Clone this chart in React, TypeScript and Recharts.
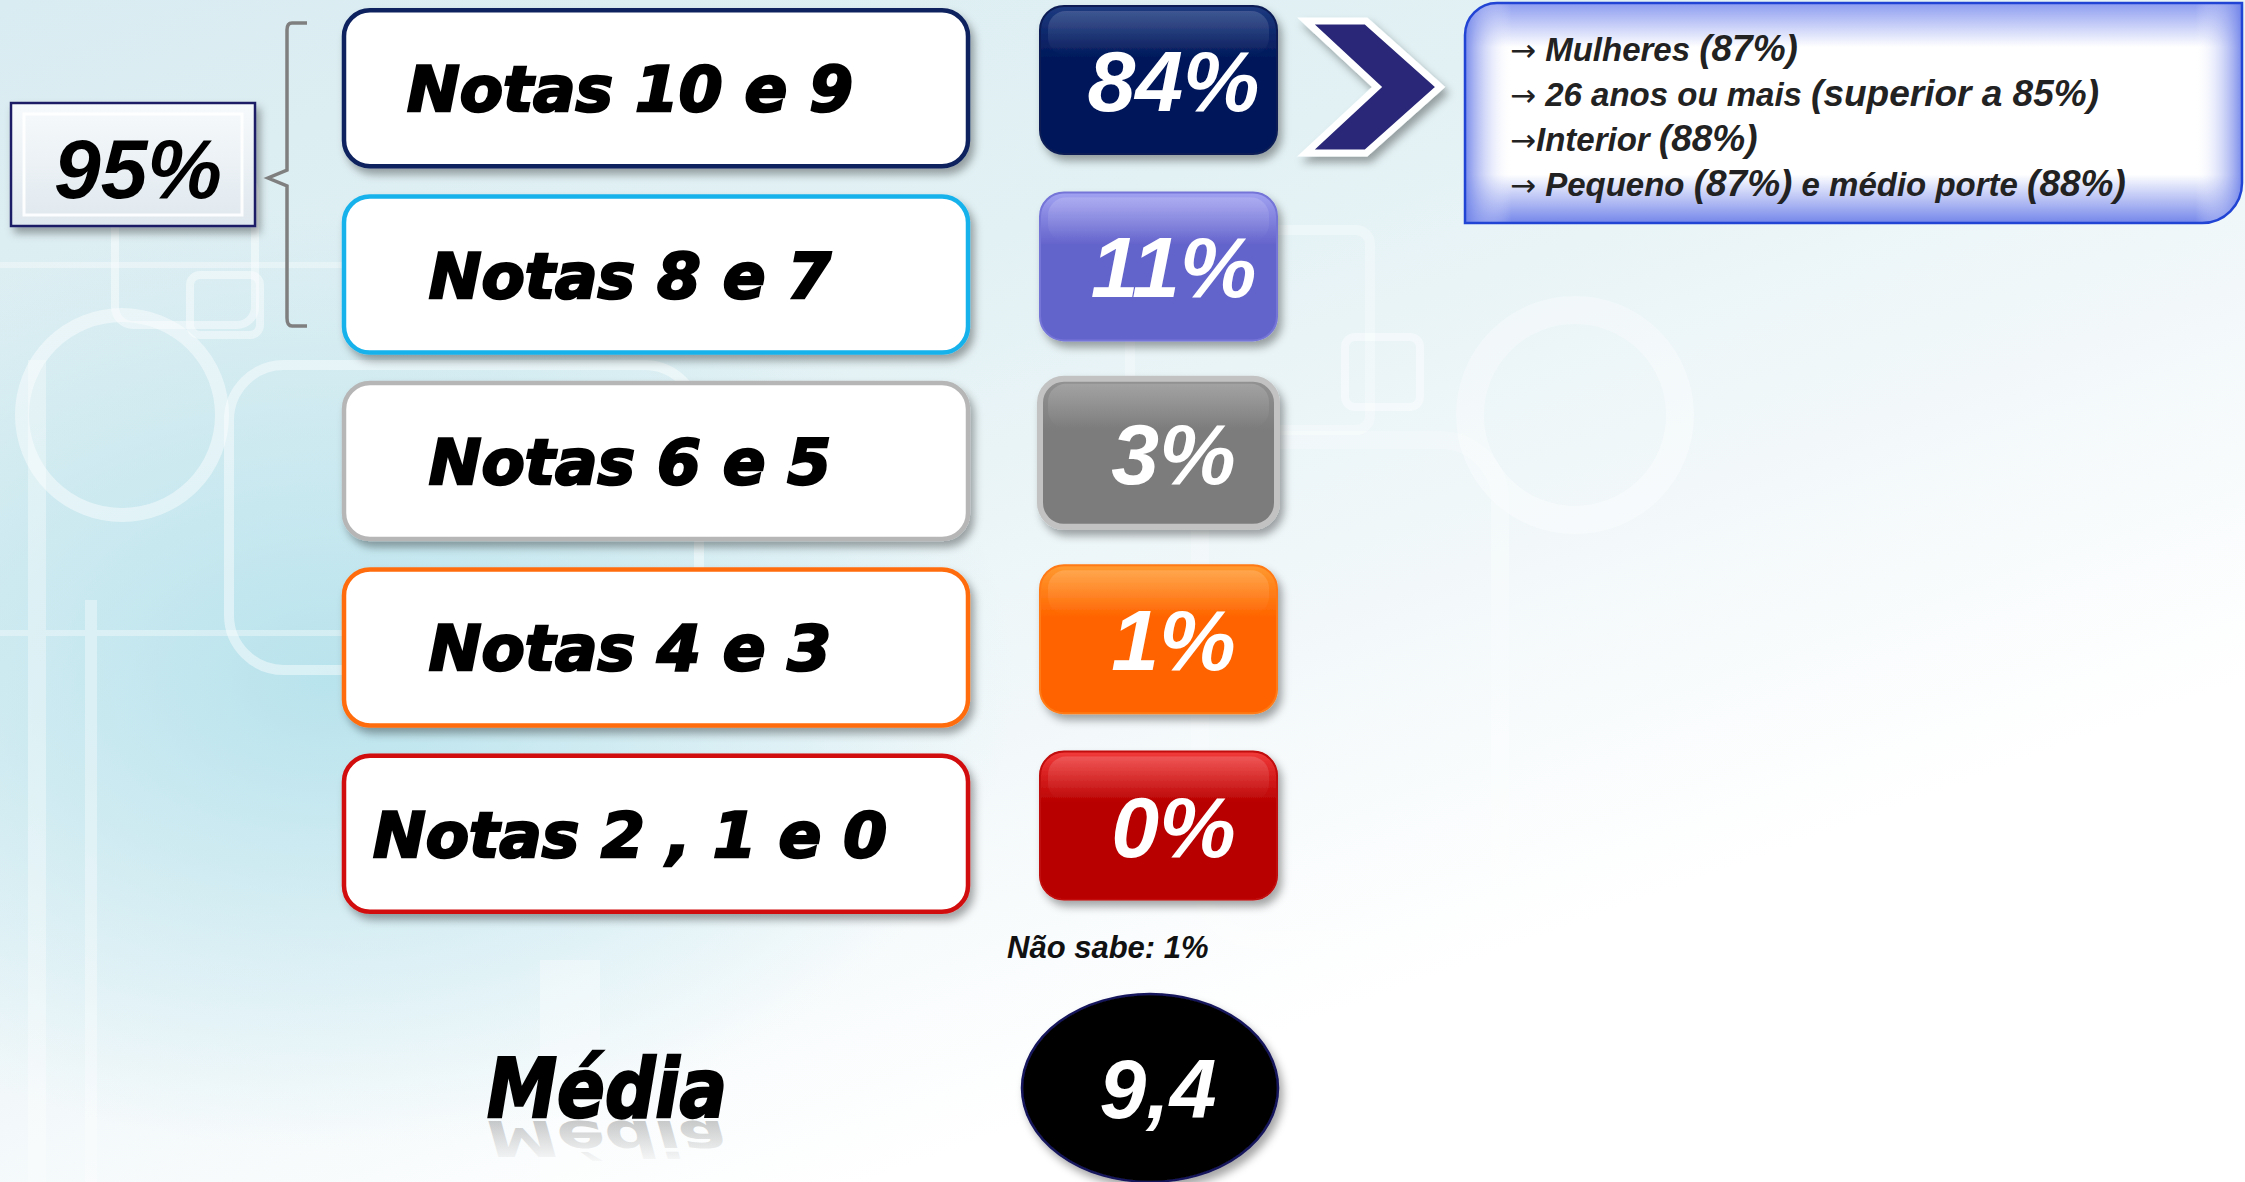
import { ComposedChart, Bar, XAxis, YAxis } from 'recharts';

const W = 2245;
const H = 1182;

const faixas = ['Notas 10 e 9', 'Notas 8 e 7', 'Notas 6 e 5', 'Notas 4 e 3', 'Notas 2 , 1 e 0'];
const percentuais = [84, 11, 3, 1, 0];
const totalTopo = 95; // notas 10 a 7
const naoSabe = 1;
const media = '9,4';
const destaques = [
  ['→', ' Mulheres ', '(87%)'],
  ['→', ' 26 anos ou mais ', '(superior a 85%)'],
  ['→', 'Interior ', '(88%)'],
  ['→', ' Pequeno ', '(87%)', ' e médio porte ', '(88%)'],
];

const data = faixas.map((faixa, i) => ({ faixa, pct: percentuais[i] }));

const CORES = [
  { borda: '#10245e', topo: '#1d3a80', base: '#02195a', contorno: '#0a1d55', cw: 2 },
  { borda: '#19b2ec', topo: '#a2a2f2', base: '#6464cc', contorno: '#7474d8', cw: 2 },
  { borda: '#b6b6b6', topo: '#939393', base: '#7c7c7c', contorno: '#c2c2c2', cw: 6 },
  { borda: '#ff6c0a', topo: '#ff9a30', base: '#ff6400', contorno: '#ff7a14', cw: 2 },
  { borda: '#d20a0a', topo: '#f23a3a', base: '#b80000', contorno: '#c00808', cw: 2 },
];

const FONTE_TITULO = "'DejaVu Sans', Verdana, sans-serif";
const FONTE = "'Liberation Sans', Arial, sans-serif";

const BTN_X = 1040;
const BTN_W = 237;

function RotuloFaixa(props: any) {
  const { y, payload } = props;
  const i = faixas.indexOf(payload.value);
  const c = CORES[i] || CORES[0];
  return (
    <g>
      <rect x={344} y={y - 78} width={624} height={156} rx={26} fill="#fff" stroke={c.borda} strokeWidth={4.5} filter="url(#sombra)" />
      <text
        x={630}
        y={y + 23}
        textAnchor="middle"
        fontFamily={FONTE_TITULO}
        fontWeight="bold"
        fontStyle="italic"
        fontSize={63}
        fill="#000"
        stroke="#000"
        strokeWidth={2.5}
      >
        {payload.value}
      </text>
    </g>
  );
}

function BotaoPct(props: any) {
  const { y, height, payload } = props;
  const i = faixas.indexOf(payload.faixa);
  const c = CORES[i] || CORES[0];
  const top = y - 8;
  return (
    <g>
      <rect x={BTN_X} y={top} width={BTN_W} height={height} rx={24} fill={`url(#btn${i})`} stroke={c.contorno} strokeWidth={c.cw} filter="url(#sombra)" />
      <rect x={BTN_X + 8} y={top + 5} width={BTN_W - 16} height={height * 0.3} rx={18} fill="url(#brilho)" />
      <text
        x={BTN_X + BTN_W / 2 + 15}
        y={top + height / 2 + 31}
        textAnchor="middle"
        fontFamily={FONTE}
        fontWeight="bold"
        fontStyle="italic"
        fontSize={86}
        fill="#fff"
      >
        {payload.pct}%
      </text>
    </g>
  );
}

function Fundo() {
  return (
    <svg width={W} height={H} style={{ position: 'absolute', left: 0, top: 0 }}>
      <defs>
        <filter id="sombra" x="-10%" y="-10%" width="130%" height="140%">
          <feDropShadow dx={4} dy={6} stdDeviation={4} floodColor="#000" floodOpacity={0.35} />
        </filter>
        {CORES.map((c, i) => (
          <linearGradient key={i} id={`btn${i}`} x1="0" y1="0" x2="0" y2="1">
            <stop offset="0" stopColor={c.topo} />
            <stop offset="0.35" stopColor={c.base} />
            <stop offset="1" stopColor={c.base} />
          </linearGradient>
        ))}
        <linearGradient id="brilho" x1="0" y1="0" x2="0" y2="1">
          <stop offset="0" stopColor="#ffffff" stopOpacity={0.16} />
          <stop offset="1" stopColor="#ffffff" stopOpacity={0} />
        </linearGradient>
        <linearGradient id="caixa95" x1="0" y1="0" x2="0" y2="1">
          <stop offset="0" stopColor="#f7fafc" />
          <stop offset="1" stopColor="#dfe8ee" />
        </linearGradient>
        <linearGradient id="calloutV" x1="0" y1="0" x2="0" y2="1">
          <stop offset="0" stopColor="#8c9cf0" />
          <stop offset="0.2" stopColor="#ffffff" />
          <stop offset="0.78" stopColor="#ffffff" />
          <stop offset="1" stopColor="#7486ea" />
        </linearGradient>
        <linearGradient id="calloutH" x1="0" y1="0" x2="1" y2="0">
          <stop offset="0" stopColor="#6a7ee8" stopOpacity={0.9} />
          <stop offset="0.06" stopColor="#ffffff" stopOpacity={0} />
          <stop offset="0.94" stopColor="#ffffff" stopOpacity={0} />
          <stop offset="1" stopColor="#6a7ee8" stopOpacity={0.9} />
        </linearGradient>
        <linearGradient id="reflexo" x1="0" y1="0" x2="0" y2="1">
          <stop offset="0" stopColor="#888" stopOpacity={0} />
          <stop offset="1" stopColor="#777" stopOpacity={0.5} />
        </linearGradient>
      </defs>
      {/* formas decorativas do fundo */}
      <g fill="none" stroke="#ffffff" strokeOpacity={0.45}>
        <circle cx={122} cy={415} r={100} strokeWidth={14} />
        <rect x={229} y={365} width={470} height={305} rx={55} strokeWidth={10} />
        <rect x={115} y={175} width={140} height={150} rx={18} strokeWidth={8} />
        <rect x={190} y={275} width={70} height={60} rx={10} strokeWidth={8} />
        <circle cx={1575} cy={415} r={105} strokeWidth={28} strokeOpacity={0.35} />
        <rect x={1345} y={337} width={75} height={70} rx={10} strokeWidth={8} />
        <rect x={1130} y={230} width={240} height={200} rx={14} strokeWidth={10} strokeOpacity={0.3} />
        <rect x={1200} y={440} width={300} height={500} rx={60} strokeWidth={18} strokeOpacity={0.25} />
      </g>
      <g fill="#ffffff" opacity={0.35}>
        <rect x={28} y={360} width={18} height={822} />
        <rect x={85} y={600} width={12} height={582} />
        <rect x={0} y={262} width={700} height={6} />
        <rect x={0} y={630} width={700} height={6} />
        <rect x={540} y={960} width={60} height={222} />
      </g>
    </svg>
  );
}

function Sobreposicao() {
  const x0 = 1465;
  const y0 = 3;
  const x1 = 2242;
  const y1 = 223;
  const rTL = 32;
  const rBR = 40;
  const callout = `M ${x0 + rTL} ${y0} H ${x1} V ${y1 - rBR} A ${rBR} ${rBR} 0 0 1 ${x1 - rBR} ${y1} H ${x0} V ${y0 + rTL} A ${rTL} ${rTL} 0 0 1 ${x0 + rTL} ${y0} Z`;
  const baseMedia = 1117;
  return (
    <svg width={W} height={H} style={{ position: 'absolute', left: 0, top: 0, pointerEvents: 'none' }}>
      {/* caixa 95% */}
      <g filter="url(#sombra)">
        <rect x={11} y={103} width={244} height={123} fill="url(#caixa95)" stroke="#1c1c66" strokeWidth={2.5} />
      </g>
      <rect x={24} y={114} width={218} height={101} fill="none" stroke="#ffffff" strokeWidth={3} opacity={0.9} />
      <text x={138} y={198} textAnchor="middle" fontFamily={FONTE} fontWeight="bold" fontStyle="italic" fontSize={84} fill="#000">
        {totalTopo}%
      </text>

      {/* chave */}
      <path
        d="M 307 23 H 292 Q 287 23 287 30 V 170 L 268 178 L 287 186 V 318 Q 287 326 292 326 H 307"
        fill="none"
        stroke="#7f7f7f"
        strokeWidth={3.5}
      />

      {/* seta */}
      <g filter="url(#sombra)">
        <polygon points="1306,21 1366,21 1440,87 1366,153 1306,153 1377,87" fill="#2a2878" stroke="#ffffff" strokeWidth={7} strokeLinejoin="miter" />
      </g>

      {/* destaques */}
      <path d={callout} fill="url(#calloutV)" />
      <path d={callout} fill="url(#calloutH)" stroke="#2244d4" strokeWidth={2.5} />
      {destaques.map((linha, i) => (
        <text key={i} x={1510} y={61 + i * 45} fontFamily={FONTE} fontStyle="italic" fontWeight="bold" fill="#222">
          {linha.map((parte, j) =>
            parte === '→' ? (
              <tspan key={j} fontFamily={FONTE_TITULO} fontStyle="normal" fontWeight="normal" fontSize={31}>
                {parte}
              </tspan>
            ) : (
              <tspan key={j} fontSize={parte.startsWith('(') ? 37 : 33}>
                {parte}
              </tspan>
            ),
          )}
        </text>
      ))}

      {/* nao sabe */}
      <text x={1007} y={958} fontFamily={FONTE} fontWeight="bold" fontStyle="italic" fontSize={31} fill="#111">
        Não sabe: {naoSabe}%
      </text>

      {/* media */}
      <text x={607} y={baseMedia} textAnchor="middle" fontFamily={FONTE_TITULO} fontWeight="bold" fontStyle="italic" fontSize={82} textLength={240} lengthAdjust="spacingAndGlyphs" fill="#000" stroke="#000" strokeWidth={2.5}>
        Média
      </text>
      <g transform={`translate(0 ${baseMedia * 1.6 + 4}) scale(1 -0.6)`}>
        <text x={607} y={baseMedia} textAnchor="middle" fontFamily={FONTE_TITULO} fontWeight="bold" fontStyle="italic" fontSize={82} textLength={240} lengthAdjust="spacingAndGlyphs" fill="url(#reflexo)">
          Média
        </text>
      </g>
      <g filter="url(#sombra)">
        <ellipse cx={1150} cy={1088} rx={128} ry={94} fill="#050505" stroke="#15155c" strokeWidth={2.5} />
      </g>
      <text x={1158} y={1118} textAnchor="middle" fontFamily={FONTE} fontWeight="bold" fontStyle="italic" fontSize={84} fill="#fff">
        {media}
      </text>
    </svg>
  );
}

export default function App() {
  return (
    <div
      style={{
        position: 'absolute',
        left: 0,
        top: 0,
        width: W,
        height: H,
        overflow: 'hidden',
        background:
          'radial-gradient(ellipse 950px 650px at 330px 680px, rgba(176,224,235,0.85), rgba(176,224,235,0) 72%), linear-gradient(160deg, #d9ecf1 0%, #e2f1f4 30%, #f2f8fa 55%, #ffffff 75%)',
      }}
    >
      <Fundo />
      <div style={{ position: 'absolute', left: 0, top: 0 }}>
        <ComposedChart width={W} height={H} data={data} layout="vertical" margin={{ top: -5, right: 0, bottom: 255, left: 0 }}>
          <XAxis type="number" hide domain={[0, 100]} />
          <YAxis type="category" dataKey="faixa" width={2} axisLine={false} tickLine={false} interval={0} tick={<RotuloFaixa />} />
          <Bar dataKey="pct" barSize={148} minPointSize={2} shape={<BotaoPct />} isAnimationActive={false} />
        </ComposedChart>
      </div>
      <Sobreposicao />
    </div>
  );
}
